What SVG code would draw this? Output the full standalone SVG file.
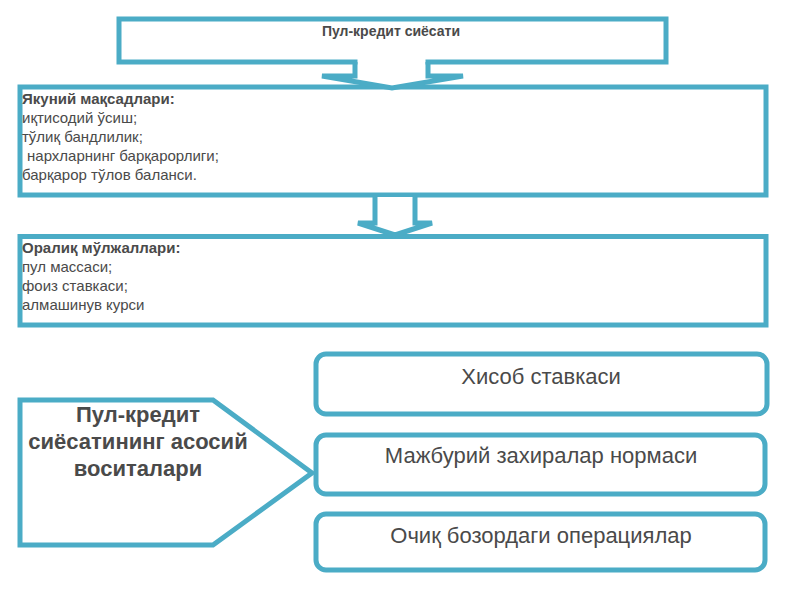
<svg xmlns="http://www.w3.org/2000/svg" width="800" height="600" viewBox="0 0 800 600">
<style>
.box{fill:#fff;stroke:#4BACC6;stroke-width:5}
.t{font-family:"Liberation Sans",Arial,sans-serif;fill:#4a4a4a}
.s{font-size:15px}
.b{font-weight:bold}
.m{text-anchor:middle}
</style>
<rect width="800" height="600" fill="#fff"/>
<g id="top">
<rect class="box" x="119" y="19" width="547" height="43"/>
<text class="t b m" x="391" y="36" font-size="14">Пул-кредит сиёсати</text>
</g>
<g id="goals">
<rect class="box" x="20" y="87" width="746" height="108"/>
<text class="t s b" x="22" y="104">Якуний мақсадлари:</text>
<text class="t s" x="22" y="123">иқтисодий ўсиш;</text>
<text class="t s" x="22" y="142">тўлиқ бандлилик;</text>
<text class="t s" x="27" y="161">нархларнинг барқарорлиги;</text>
<text class="t s" x="22" y="180">барқарор тўлов баланси.</text>
</g>
<g id="targets">
<rect class="box" x="20" y="236.5" width="746" height="88.5"/>
<text class="t s b" x="22" y="253">Оралиқ мўлжаллари:</text>
<text class="t s" x="22" y="272">пул массаси;</text>
<text class="t s" x="22" y="291">фоиз ставкаси;</text>
<text class="t s" x="22" y="310">алмашинув курси</text>
</g>
<g id="tools">
<path class="box" d="M20,400 H213 L312,473 L213,545 H20 Z"/>
<text class="t m b" x="138" y="422" font-size="22">Пул-кредит</text>
<text class="t m b" x="138" y="449" font-size="22">сиёсатининг асосий</text>
<text class="t m b" x="138" y="476" font-size="22">воситалари</text>
</g>
<g id="rate">
<rect class="box" x="316" y="354" width="451" height="60" rx="10"/>
<text class="t m" x="541" y="384" font-size="22">Хисоб ставкаси</text>
</g>
<g id="reserve">
<rect class="box" x="316" y="435" width="449" height="59" rx="10"/>
<text class="t m" x="541" y="463" font-size="22">Мажбурий захиралар нормаси</text>
</g>
<g id="open">
<rect class="box" x="316" y="514" width="449" height="56" rx="10"/>
<text class="t m" x="541" y="543" font-size="22">Очиқ бозордаги операциялар</text>
</g>
<g id="connectors">
<path d="M357.5,58 H425.5 V78.5 H461 L392,88 L324,78.5 H357.5 Z" fill="#fff"/>
<path d="M355,62 V76 H322 L392,88 L463,76 H428 V62" fill="none" stroke="#4BACC6" stroke-width="5" stroke-linejoin="miter"/>
<path d="M375,197 V223 H358 L395,235 L432,223 H415 V197" fill="#fff" stroke="#4BACC6" stroke-width="5"/>
</g>
</svg>
